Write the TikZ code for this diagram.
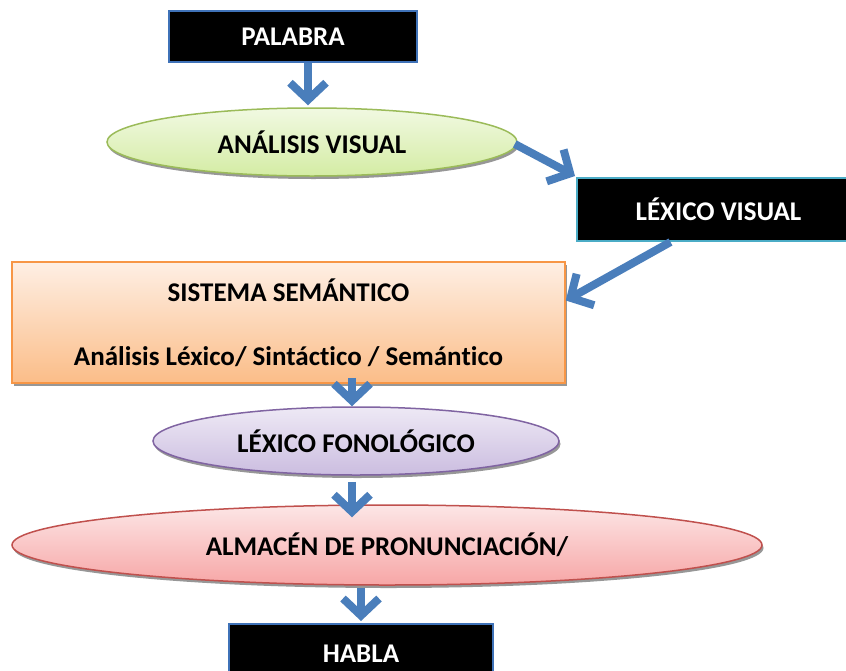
\documentclass[tikz,border=0pt]{standalone}
\usepackage{fontspec}
\setmainfont[Ligatures=NoCommon]{Carlito}
\usetikzlibrary{shapes.geometric,arrows.meta,shadows,calc}
\definecolor{arrblue}{HTML}{4A7EBB}
\definecolor{boxblue}{HTML}{3F72B8}
\definecolor{tealb}{HTML}{4BACC6}
\definecolor{grnb}{HTML}{9BBB59}
\definecolor{grnt}{HTML}{F1F9E2}
\definecolor{grnbt}{HTML}{D4ECA4}
\definecolor{purb}{HTML}{8064A2}
\definecolor{purt}{HTML}{EEE9F5}
\definecolor{purbt}{HTML}{CBBDE0}
\definecolor{redb}{HTML}{C0504D}
\definecolor{redt}{HTML}{FCE6E6}
\definecolor{redbt}{HTML}{F7A6A6}
\definecolor{orb}{HTML}{F79646}
\definecolor{ort}{HTML}{FEEFE4}
\definecolor{orbt}{HTML}{FBBD88}
\begin{document}
\begin{tikzpicture}[x=1pt,y=-1pt,
  every node/.style={font=\fontsize{27}{32}\selectfont\bfseries},
  blackbox/.style={rectangle, fill=black, line width=2pt, text=white, inner sep=0pt},
  shad/.style={drop shadow={shadow xshift=1.5pt, shadow yshift=-3pt, fill=black!45, opacity=0.9}},
  ell/.style={ellipse, line width=1.5pt, inner sep=0pt, shad},
  arr/.style={draw=arrblue, line width=8pt, -{Straight Barb[length=17pt,width=36pt]}},
]
\fill[white] (0,0) rectangle (846,670);
\useasboundingbox (0,0) rectangle (846,670);

\node[blackbox, draw=boxblue, minimum width=248pt, minimum height=51pt] (palabra) at (293,36.5) {PALABRA};
\node[ell, draw=grnb, top color=grnt, bottom color=grnbt, minimum width=410pt, minimum height=68pt] (analisis) at (312,142) {ANÁLISIS VISUAL};
\node[blackbox, draw=tealb, minimum width=283pt, minimum height=63pt] (lexvis) at (718.5,209.5) {LÉXICO VISUAL};
\node[rectangle, shad, draw=orb, line width=1.5pt, top color=ort, bottom color=orbt, minimum width=553pt, minimum height=121pt, align=center, inner sep=0pt] (sistema) at (288.5,322.5) {SISTEMA SEMÁNTICO\\[32pt]Análisis Léxico/ Sintáctico / Semántico};
\node[ell, draw=purb, top color=purt, bottom color=purbt, minimum width=406pt, minimum height=68pt] (lexfon) at (356,441) {LÉXICO FONOLÓGICO};
\node[ell, draw=redb, top color=redt, bottom color=redbt, minimum width=750pt, minimum height=80pt] (almacen) at (387,545) {ALMACÉN DE PRONUNCIACIÓN/};
\node[blackbox, draw=boxblue, minimum width=264pt, minimum height=60pt] (habla) at (361,654) {HABLA};

\draw[arr] ($(palabra.south)+(15,0)$) -- ($(analisis.north)+(-4,-2)$);
\draw[arr] ($(analisis.east)+(-3,2)$) -- ($(lexvis.north west)+(-1,-1)$);
\draw[arr] ($(lexvis.south)+(-48,0)$) -- ($(sistema.east)+(0,-22)$);
\draw[arr] ($(lexfon.north |- sistema.south)+(-4,-6)$) -- ($(lexfon.north)+(-4,0)$);
\draw[arr] ($(lexfon.south)+(-4,6)$) -- ($(almacen.north -| lexfon.south)+(-4,13)$);
\draw[arr] ($(habla.north |- almacen.south)+(0,2)$) -- ($(habla.north)+(0,-2)$);
\end{tikzpicture}
\end{document}
